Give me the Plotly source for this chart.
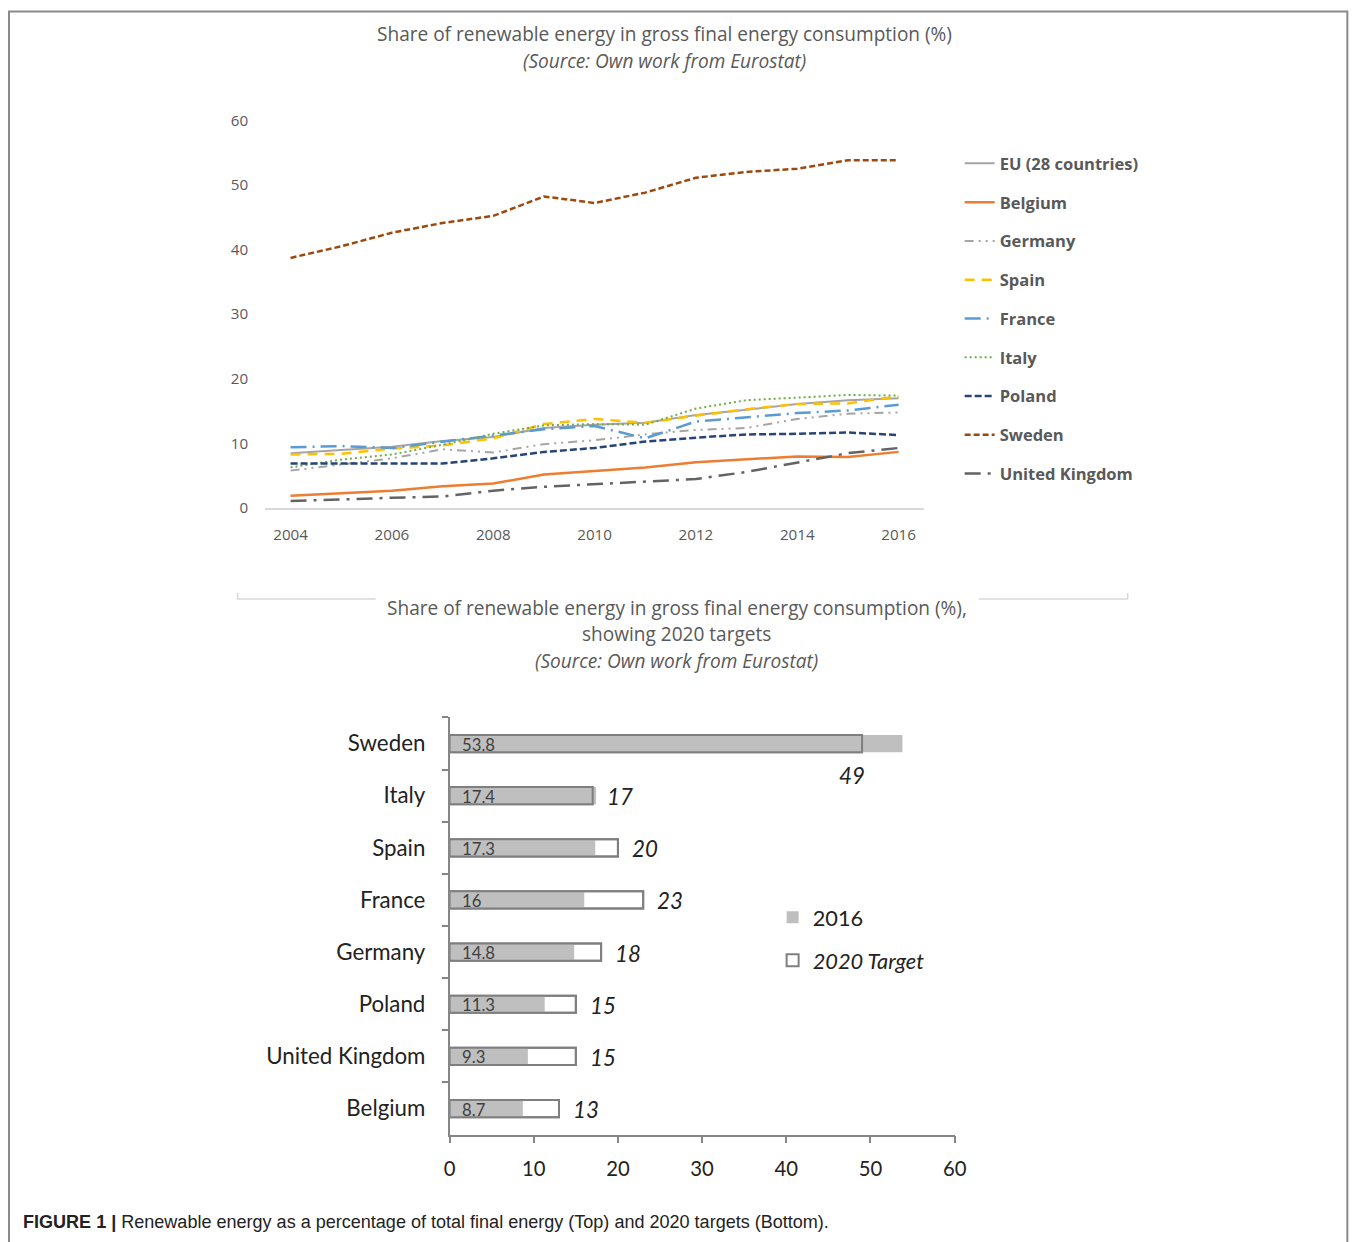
import plotly.graph_objects as go

W, H = 1360, 1242
# Calibration of figure pixels -> photographed pixels (measured on earlier renders)
SC, OX, OY = 0.9866, 5.5, 10.5

# ---------------- data: top line chart ----------------
years = list(range(2004, 2017))
eu28 = [8.5, 9.0, 9.5, 10.4, 11.0, 12.4, 12.9, 13.2, 14.4, 15.2, 16.1, 16.7, 17.0]
belgium = [1.9, 2.3, 2.7, 3.4, 3.8, 5.2, 5.7, 6.3, 7.1, 7.5, 8.0, 7.9, 8.7]
germany = [5.8, 6.7, 7.7, 9.1, 8.6, 9.9, 10.5, 11.4, 12.1, 12.4, 13.8, 14.6, 14.8]
spain = [8.3, 8.4, 9.2, 9.7, 10.8, 13.0, 13.8, 13.2, 14.3, 15.3, 16.1, 16.2, 17.3]
france = [9.4, 9.6, 9.3, 10.3, 11.2, 12.2, 12.7, 10.8, 13.4, 14.0, 14.7, 15.1, 16.0]
italy = [6.3, 7.5, 8.3, 9.8, 11.5, 12.8, 13.0, 12.9, 15.4, 16.7, 17.1, 17.5, 17.4]
poland = [6.9, 6.9, 7.0, 6.9, 7.7, 8.7, 9.3, 10.3, 10.9, 11.4, 11.5, 11.7, 11.3]
sweden = [38.7, 40.5, 42.6, 44.1, 45.2, 48.2, 47.2, 48.8, 51.1, 52.0, 52.5, 53.8, 53.8]
uk = [1.1, 1.4, 1.6, 1.8, 2.7, 3.3, 3.7, 4.2, 4.5, 5.6, 7.0, 8.5, 9.3]

line_names = ["EU (28 countries)", "Belgium", "Germany", "Spain", "France",
              "Italy", "Poland", "Sweden", "United Kingdom"]
line_values = [eu28, belgium, germany, spain, france, italy, poland, sweden, uk]
line_colors = ["#a5a5a5", "#ed7d31", "#a5a5a5", "#ffc000", "#5b9bd5",
               "#70ad47", "#264478", "#9e480e", "#636363"]
line_dashes = ["solid", "solid", "9px,5px,2px,5px,2px,5px", "10px,7px",
               "16px,6px,2px,6px", "2px,3px", "7px,3px", "6px,3px",
               "16px,7px,3px,7px"]
line_widths = [2, 2.5, 2, 2.5, 2.5, 2, 2.5, 2.5, 2.5]

x_ticks = list(range(2004, 2017, 2))
y_ticks = list(range(0, 61, 10))

# ---------------- data: bottom bar chart ----------------
bar_countries = ["Sweden", "Italy", "Spain", "France", "Germany", "Poland",
                 "United Kingdom", "Belgium"]
share_2016 = [53.8, 17.4, 17.3, 16, 14.8, 11.3, 9.3, 8.7]
target_2020 = [49, 17, 20, 23, 18, 15, 15, 13]
bar_x_ticks = list(range(0, 61, 10))


def px_x(p):
    return ((p - OX) / SC) / W


def px_y(p):
    return 1 - ((p - OY) / SC) / H


def fs(s):
    return round(s / SC, 2)


fig = go.Figure()

for name, vals, col, dash, w in zip(line_names, line_values, line_colors,
                                    line_dashes, line_widths):
    fig.add_trace(go.Scatter(
        x=years, y=vals, mode="lines", name=name,
        line=dict(color=col, dash=dash, width=w),
        xaxis="x", yaxis="y", legend="legend", legendgroup=name,
        hoverinfo="x+y+name"))

# bottom bars
fig.add_trace(go.Bar(
    y=bar_countries, x=target_2020, orientation="h", width=0.33,
    marker=dict(color="white", line=dict(color="#7f7f7f", width=2)),
    name="<i>2020 Target</i>", legend="legend2", legendrank=2,
    legendgroup="target", xaxis="x2", yaxis="y2"))
fig.add_trace(go.Bar(
    y=bar_countries, x=share_2016, orientation="h", width=0.33,
    marker=dict(color="#bfbfbf", line=dict(width=0)),
    name="2016", legend="legend2", legendrank=1,
    legendgroup="s2016", xaxis="x2", yaxis="y2"))
fig.add_trace(go.Bar(
    y=bar_countries, x=target_2020, orientation="h", width=0.33,
    marker=dict(color="rgba(0,0,0,0)", line=dict(color="#7f7f7f", width=2)),
    showlegend=False, hoverinfo="skip", legendgroup="target",
    xaxis="x2", yaxis="y2"))

annotations = []
for c, v, t in zip(bar_countries, share_2016, target_2020):
    annotations.append(dict(
        x=0, y=c, xref="x2", yref="y2", text=str(v), showarrow=False,
        xanchor="left", xshift=10, yshift=-1,
        font=dict(family="Lato", size=fs(16.5), color="#404040")))
    if v > t + 1:
        annotations.append(dict(
            x=t, y=c, xref="x2", yref="y2", text=f"<i>{t}</i>",
            showarrow=False, xanchor="right", xshift=4.5, yshift=-32,
            font=dict(family="Lato", size=fs(22), color="#222222")))
    else:
        annotations.append(dict(
            x=t, y=c, xref="x2", yref="y2", text=f"<i>{t}</i>",
            showarrow=False, xanchor="left", xshift=12, yshift=-1,
            font=dict(family="Lato", size=fs(22), color="#222222")))

title_font = dict(family="Open Sans", size=fs(18.8), color="#595959")
annotations += [
    dict(x=px_x(664), y=px_y(34), xref="paper", yref="paper",
         text="Share of renewable energy in gross final energy consumption (%)",
         showarrow=False, font=title_font, xanchor="center", yanchor="middle"),
    dict(x=px_x(664), y=px_y(61), xref="paper", yref="paper",
         text="<i>(Source: Own work from Eurostat)</i>",
         showarrow=False, font=title_font, xanchor="center", yanchor="middle"),
    dict(x=px_x(676), y=px_y(609), xref="paper", yref="paper",
         text="Share of renewable energy in gross final energy consumption (%),",
         showarrow=False, font=title_font, xanchor="center", yanchor="middle"),
    dict(x=px_x(676), y=px_y(635), xref="paper", yref="paper",
         text="showing 2020 targets",
         showarrow=False, font=title_font, xanchor="center", yanchor="middle"),
    dict(x=px_x(676), y=px_y(662), xref="paper", yref="paper",
         text="<i>(Source: Own work from Eurostat)</i>",
         showarrow=False, font=title_font, xanchor="center", yanchor="middle"),
    dict(x=px_x(20), y=px_y(1225), xref="paper", yref="paper",
         text="<b>FIGURE 1 |</b> Renewable energy as a percentage of total final energy (Top) and 2020 targets (Bottom).",
         showarrow=False, xanchor="left", yanchor="middle",
         font=dict(family="Liberation Sans", size=fs(17.8), color="#222222")),
]

shapes = [
    # outer frame
    dict(type="rect", xref="paper", yref="paper",
         x0=px_x(8.5), x1=0.9995, y0=-0.03, y1=0.9995,
         line=dict(color="#8a8a8a", width=2), fillcolor="rgba(0,0,0,0)"),
    # bottom chart box top edge (interrupted by title)
    dict(type="path", xref="paper", yref="paper",
         path=f"M{px_x(237)},{px_y(594)} L{px_x(237)},{px_y(600)} L{px_x(375)},{px_y(600)}",
         line=dict(color="#d9d9d9", width=1.5)),
    dict(type="path", xref="paper", yref="paper",
         path=f"M{px_x(978)},{px_y(600)} L{px_x(1127)},{px_y(600)} L{px_x(1127)},{px_y(594)}",
         line=dict(color="#d9d9d9", width=1.5)),
]

tick_font = dict(family="Open Sans", size=fs(15), color="#595959")

fig.update_layout(
    width=W, height=H, margin=dict(l=0, r=0, t=0, b=0),
    paper_bgcolor="white", plot_bgcolor="white",
    showlegend=True, barmode="overlay",
    xaxis=dict(domain=[px_x(264.7), px_x(923.3)], range=[2003.5, 2016.5],
               tickvals=x_ticks, ticks="", showgrid=False, zeroline=False,
               showline=True, linecolor="#d9d9d9", linewidth=1.5,
               tickfont=tick_font, ticklabelstandoff=12, anchor="y"),
    yaxis=dict(domain=[px_y(509), px_y(120)], range=[0, 60], tickvals=y_ticks,
               showgrid=False, zeroline=False, showline=False, ticks="",
               tickfont=tick_font, ticklabelstandoff=16, anchor="x"),
    xaxis2=dict(domain=[px_x(449), px_x(954)], range=[0, 60],
                tickvals=bar_x_ticks, showgrid=False, zeroline=False,
                showline=True, linecolor="#868686", linewidth=1.5,
                ticks="outside", ticklen=7, tickcolor="#868686", tickwidth=1.5,
                tickfont=dict(family="Lato", size=fs(20), color="#222222"),
                ticklabelstandoff=8, anchor="y2"),
    yaxis2=dict(domain=[px_y(1137.2), px_y(718.9)],
                categoryorder="array", categoryarray=bar_countries,
                range=[len(bar_countries) - 0.5, -0.5],
                showgrid=False, zeroline=False, showline=True,
                linecolor="#868686", linewidth=1.5,
                ticks="outside", tickson="boundaries", ticklen=6,
                tickcolor="#868686", tickwidth=1.5,
                tickfont=dict(family="Lato", size=fs(22), color="#222222"),
                ticklabelstandoff=18, anchor="x2"),
    legend=dict(x=px_x(959), y=px_y(146), xanchor="left", yanchor="top",
                font=dict(family="Open Sans", size=fs(16.3), color="#595959", weight="bold"),
                traceorder="grouped", tracegroupgap=14.3, itemwidth=30,
                bgcolor="rgba(0,0,0,0)"),
    legend2=dict(x=px_x(772), y=px_y(898.6), xanchor="left", yanchor="top",
                 font=dict(family="Lato", size=fs(21.5), color="#222222"),
                 traceorder="grouped", tracegroupgap=11.5, itemwidth=30,
                 bgcolor="rgba(0,0,0,0)"),
    annotations=annotations, shapes=shapes,
)

fig.write_html("out.html")
